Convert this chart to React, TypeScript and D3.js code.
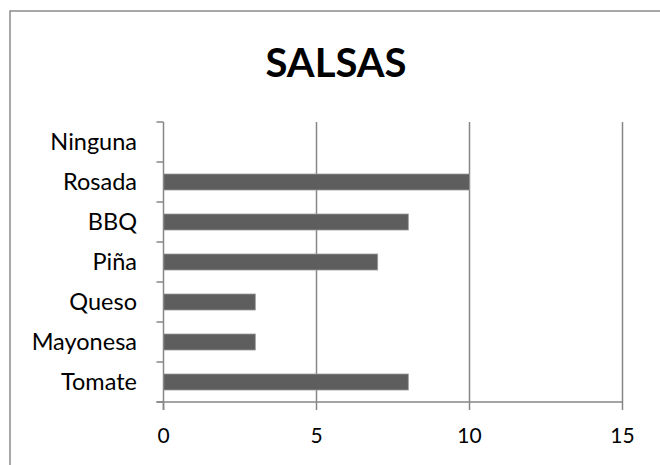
import React, { useEffect, useRef } from 'react';
import * as d3 from 'd3';

const categories = ['Tomate', 'Mayonesa', 'Queso', 'Piña', 'BBQ', 'Rosada', 'Ninguna'];
const values = [8, 3, 3, 7, 8, 10, 0];
const xTicks = [0, 5, 10, 15];
const title = 'SALSAS';

const W = 660;
const H = 465;

const App: React.FC = () => {
  const svgRef = useRef<SVGSVGElement>(null);

  useEffect(() => {
    if (!svgRef.current) return;
    const svg = d3.select(svgRef.current);
    svg.selectAll('*').remove();

    const left = 163.5;
    const right = 622.5;
    const top = 122;
    const bottom = 402;
    const axisColor = '#868686';
    const font = 'Lato, "Open Sans", sans-serif';

    // chart frame (right and bottom edges fall outside the picture)
    svg.append('rect')
      .attr('x', 10).attr('y', 11)
      .attr('width', W + 20).attr('height', H + 20)
      .attr('fill', '#fff')
      .attr('stroke', '#8c8c8c')
      .attr('stroke-width', 1.5);

    svg.append('text')
      .attr('x', 336).attr('y', 77)
      .attr('text-anchor', 'middle')
      .attr('font-family', font)
      .attr('font-weight', 'bold')
      .attr('font-size', 40)
      .attr('fill', '#000')
      .text(title);

    const x = d3.scaleLinear().domain([0, 15]).range([left, right]);
    // first category sits at the bottom
    const y = d3.scaleBand<string>()
      .domain([...categories].reverse())
      .range([top, bottom])
      .paddingInner(0.6)
      .paddingOuter(0.3);

    const g = svg.append('g');

    // vertical gridlines
    g.selectAll('line.grid')
      .data(xTicks.filter(t => t > 0))
      .enter().append('line')
      .attr('x1', d => x(d)).attr('x2', d => x(d))
      .attr('y1', top).attr('y2', bottom)
      .attr('stroke', axisColor)
      .attr('stroke-width', 1.5);

    // bars
    g.selectAll('rect.bar')
      .data(categories)
      .enter().append('rect')
      .attr('x', x(0))
      .attr('y', d => y(d)!)
      .attr('width', (d, i) => x(values[i]) - x(0))
      .attr('height', y.bandwidth())
      .attr('fill', '#5e5e5e')
      .attr('stroke', '#9a9a9a')
      .attr('stroke-width', (d, i) => (values[i] > 0 ? 0.8 : 0));

    // left axis, ticks at band edges
    const step = (bottom - top) / categories.length;
    g.append('line')
      .attr('x1', left).attr('x2', left)
      .attr('y1', top).attr('y2', bottom + 8)
      .attr('stroke', axisColor).attr('stroke-width', 1.5);
    g.selectAll('line.ytick')
      .data(d3.range(categories.length + 1))
      .enter().append('line')
      .attr('x1', left - 7).attr('x2', left)
      .attr('y1', i => top + i * step).attr('y2', i => top + i * step)
      .attr('stroke', axisColor).attr('stroke-width', 1.5);

    // bottom axis
    g.append('line')
      .attr('x1', left - 7).attr('x2', right)
      .attr('y1', bottom).attr('y2', bottom)
      .attr('stroke', axisColor).attr('stroke-width', 1.5);
    g.selectAll('line.xtick')
      .data(xTicks)
      .enter().append('line')
      .attr('x1', d => x(d)).attr('x2', d => x(d))
      .attr('y1', bottom).attr('y2', bottom + 8)
      .attr('stroke', axisColor).attr('stroke-width', 1.5);

    g.selectAll('text.xlab')
      .data(xTicks)
      .enter().append('text')
      .attr('x', d => x(d))
      .attr('y', 443)
      .attr('text-anchor', 'middle')
      .attr('font-family', font)
      .attr('font-size', 21)
      .attr('fill', '#000')
      .text(d => String(d));

    g.selectAll('text.ylab')
      .data(categories)
      .enter().append('text')
      .attr('x', 137)
      .attr('y', d => y(d)! + y.bandwidth() / 2)
      .attr('dy', '0.36em')
      .attr('text-anchor', 'end')
      .attr('font-family', font)
      .attr('font-size', 23.5)
      .attr('fill', '#000')
      .text(d => d);
  }, []);

  return (
    <svg
      ref={svgRef}
      width={W}
      height={H}
      style={{ position: 'absolute', left: 0, top: 0, background: '#fff' }}
    />
  );
};

export default App;
